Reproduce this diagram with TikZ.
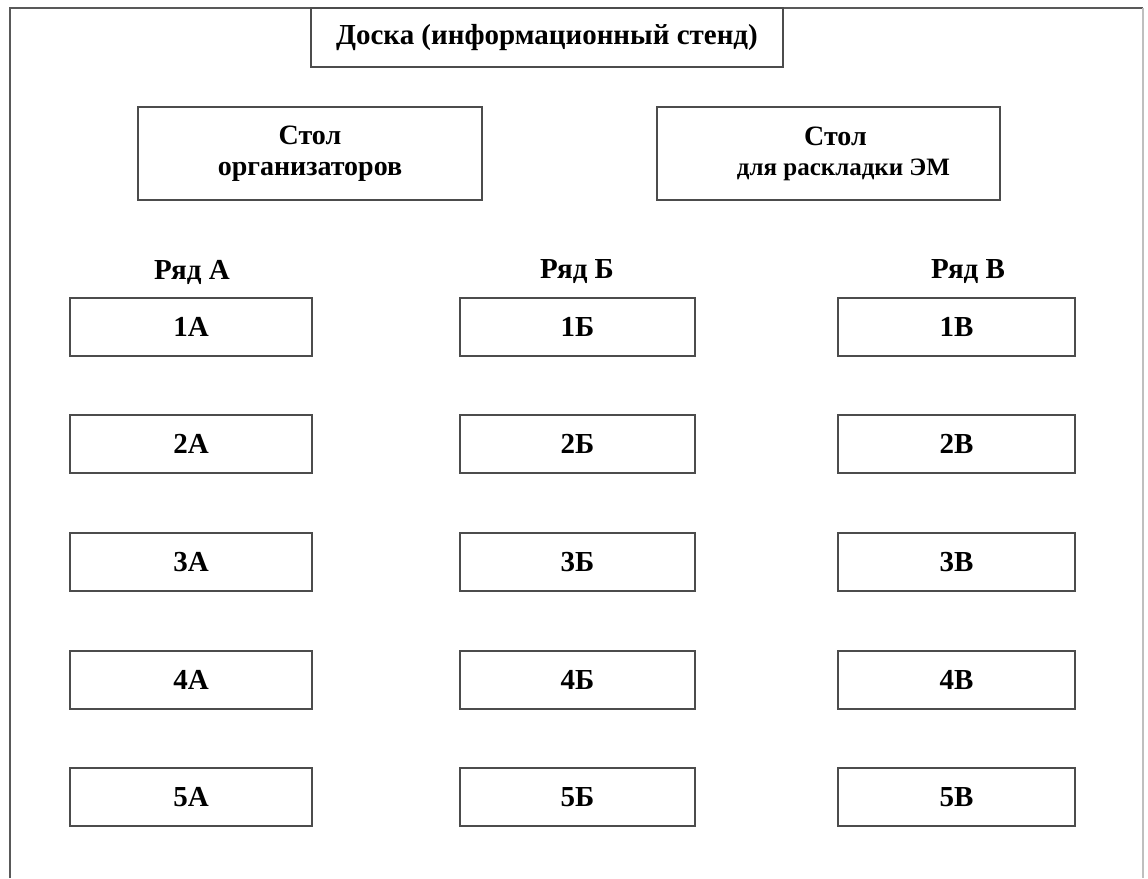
\documentclass[tikz,border=0pt]{standalone}
\usepackage{fontspec}
\setmainfont{Liberation Serif}
\begin{document}
\begin{tikzpicture}[x=1pt,y=-1pt,
  box/.style={draw=black!70, line width=1.8pt, rectangle, inner sep=0pt, align=center},
  lbl/.style={font=\bfseries\fontsize{29}{32}\selectfont},
  seat/.style={box, lbl, minimum width=238pt, minimum height=58pt}]
\useasboundingbox (0,0) rectangle (1148,878);
\fill[white] (0,0) rectangle (1148,878);
\draw[black!65, line width=2pt] (10,878) -- (10,8) -- (1143,8);
\draw[black!25, line width=1.5pt] (1143,8) -- (1143,878);
\node[box, minimum width=472pt, minimum height=59pt, font=\bfseries\fontsize{29}{32}\selectfont] (board) at (547,37.5) {Доска (информационный стенд)};
\node[box, minimum width=344pt, minimum height=93pt, font=\bfseries\fontsize{28}{31}\selectfont] (org) at (310,153.5) {Стол\\организаторов};
\node[box, minimum width=343pt, minimum height=93pt, font=\bfseries\fontsize{28}{30}\selectfont] (em) at (828.5,153.5) {\hspace*{14pt}Стол\\\hspace*{30pt}{\fontsize{25}{30}\selectfont для раскладки ЭМ}};
\node[lbl] (rA) at (192,272) {Ряд А};
\node[lbl] (rB) at (577,272) {Ряд Б};
\node[lbl] (rC) at (968,272) {Ряд В};
\foreach \i/\y in {1/327,2/444,3/562,4/680,5/797}{
  \node[seat, minimum width=242pt] (a\i) at (191,\y) {\i А};
  \node[seat, minimum width=235pt] (b\i) at (577.5,\y) {\i Б};
  \node[seat, minimum width=237pt] (c\i) at (956.5,\y) {\i В};
}
\end{tikzpicture}
\end{document}
